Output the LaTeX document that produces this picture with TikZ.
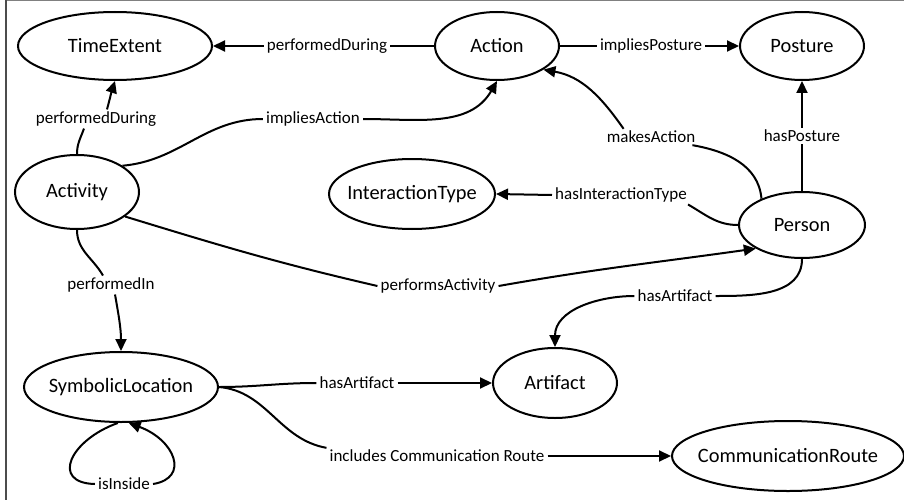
\documentclass[tikz,border=0pt]{standalone}
\usepackage{fontspec}
\setmainfont{Carlito}
\usetikzlibrary{shapes.geometric,arrows.meta}
\begin{document}
\begin{tikzpicture}[x=1pt,y=-1pt,
  ent/.style={ellipse,draw,line width=2pt,inner sep=0pt,
    font=\fontsize{20.4}{24}\selectfont},
  lab/.style={inner xsep=3pt,inner ysep=2pt,font=\fontsize{17}{20}\selectfont},
  edge/.style={line width=2pt},
  arr/.style={-{Triangle[length=12pt,width=11pt]}}]
\useasboundingbox (0,0) rectangle (904,500);
% frame lines
\draw[line width=1pt,gray] (5,1) -- (904,1);
\draw[line width=2pt,black!70] (5.5,0) -- (5.5,500);

% classes
\node[ent,minimum width=194pt,minimum height=68pt] (timeext) at (115,46) {\makebox[0pt]{TimeExtent}};
\node[ent,minimum width=124pt,minimum height=68pt] (action) at (497,46) {\makebox[0pt]{Action}};
\node[ent,minimum width=124pt,minimum height=68pt] (posture) at (802,46) {\makebox[0pt]{Posture}};
\node[ent,minimum width=124pt,minimum height=74pt] (activity) at (77,192) {\makebox[0pt]{Activity}};
\node[ent,minimum width=166pt,minimum height=70pt] (inter) at (412,194) {\makebox[0pt]{InteractionType}};
\node[ent,minimum width=126pt,minimum height=66pt] (person) at (802,225) {\makebox[0pt]{Person}};
\node[ent,minimum width=194pt,minimum height=70pt] (symloc) at (121,387) {\makebox[0pt]{SymbolicLocation}};
\node[ent,minimum width=124pt,minimum height=70pt] (artifact) at (555,383) {\makebox[0pt]{Artifact}};
\node[ent,minimum width=232pt,minimum height=70pt] (comroute) at (788,456) {\makebox[0pt]{CommunicationRoute}};

% property labels
\node[lab] (pd1) at (327,46) {performedDuring};
\node[lab] (ip) at (651,46) {impliesPosture};
\node[lab] (hp) at (802,136) {hasPosture};
\node[lab] (ma) at (651,137) {makesAction};
\node[lab] (hit) at (621,195) {hasInteractionType};
\node[lab] (pd2) at (96,119) {performedDuring};
\node[lab] (ia) at (313,119) {impliesAction};
\node[lab] (pa) at (438,286) {performsActivity};
\node[lab] (pi) at (111,285) {performedIn};
\node[lab] (ha1) at (675,296) {hasArtifact};
\node[lab] (ha2) at (357,383) {hasArtifact};
\node[lab] (ic) at (437,456) {includes Communication Route};
\node[lab] (ii) at (124,484) {isInside};

% Action
\draw[edge] (action) -- (pd1);
\draw[edge,arr] (pd1) -- (timeext);
\draw[edge] (action) -- (ip);
\draw[edge,arr] (ip) -- (posture);

% Activity
\draw[edge] (activity.north) to[out=90,in=-110] ([xshift=-12pt]pd2.south);
\draw[edge,arr] ([xshift=11pt]pd2.north) to[out=75,in=-108] (timeext.south);
\draw[edge] (activity.30) to[out=5,in=180] (ia.west);
\draw[edge,arr] (ia.east) to[out=0,in=-120] (action.south);
\draw[edge] (activity.-27) to[out=-17,in=167] (pa.west);
\draw[edge,arr] (pa.east) to[out=10,in=-172] (person.-153);
\draw[edge] (activity.south) to[out=-90,in=120] ([xshift=-8pt]pi.north);
\draw[edge,arr] ([xshift=4pt]pi.south) to[out=-80,in=90] (symloc.north);

% Person
\draw[edge] (person) -- (hp);
\draw[edge,arr] (hp) -- (posture);
\draw[edge] (person.147) to[out=95,in=-10] ([xshift=-6pt]ma.south east);
\draw[edge,arr] ([xshift=20pt]ma.north west) to[out=125,in=-10] (action.-27);
\draw[edge] (person.west) to[out=180,in=-30] ([xshift=-2pt]hit.south east);
\draw[edge,arr] (hit.west) -- (inter.east);
\draw[edge] (person.south) to[out=-90,in=0] (ha1.east);
\draw[edge,arr] (ha1.west) to[out=180,in=90] (artifact.north);

% SymbolicLocation
\draw[edge] (symloc.east) to[out=0,in=180] (ha2.west);
\draw[edge,arr] (ha2.east) -- (artifact.west);
\draw[edge] (symloc.east) to[out=-5,in=170] (ic.north west);
\draw[edge,arr] (ic.east) -- (comroute.west);
\draw[edge] (symloc.-95) .. controls (70,440) and (50,483) .. (ii.west);
\draw[edge,arr] (ii.east) .. controls (190,478) and (175,440) .. (symloc.-78);
\end{tikzpicture}
\end{document}
